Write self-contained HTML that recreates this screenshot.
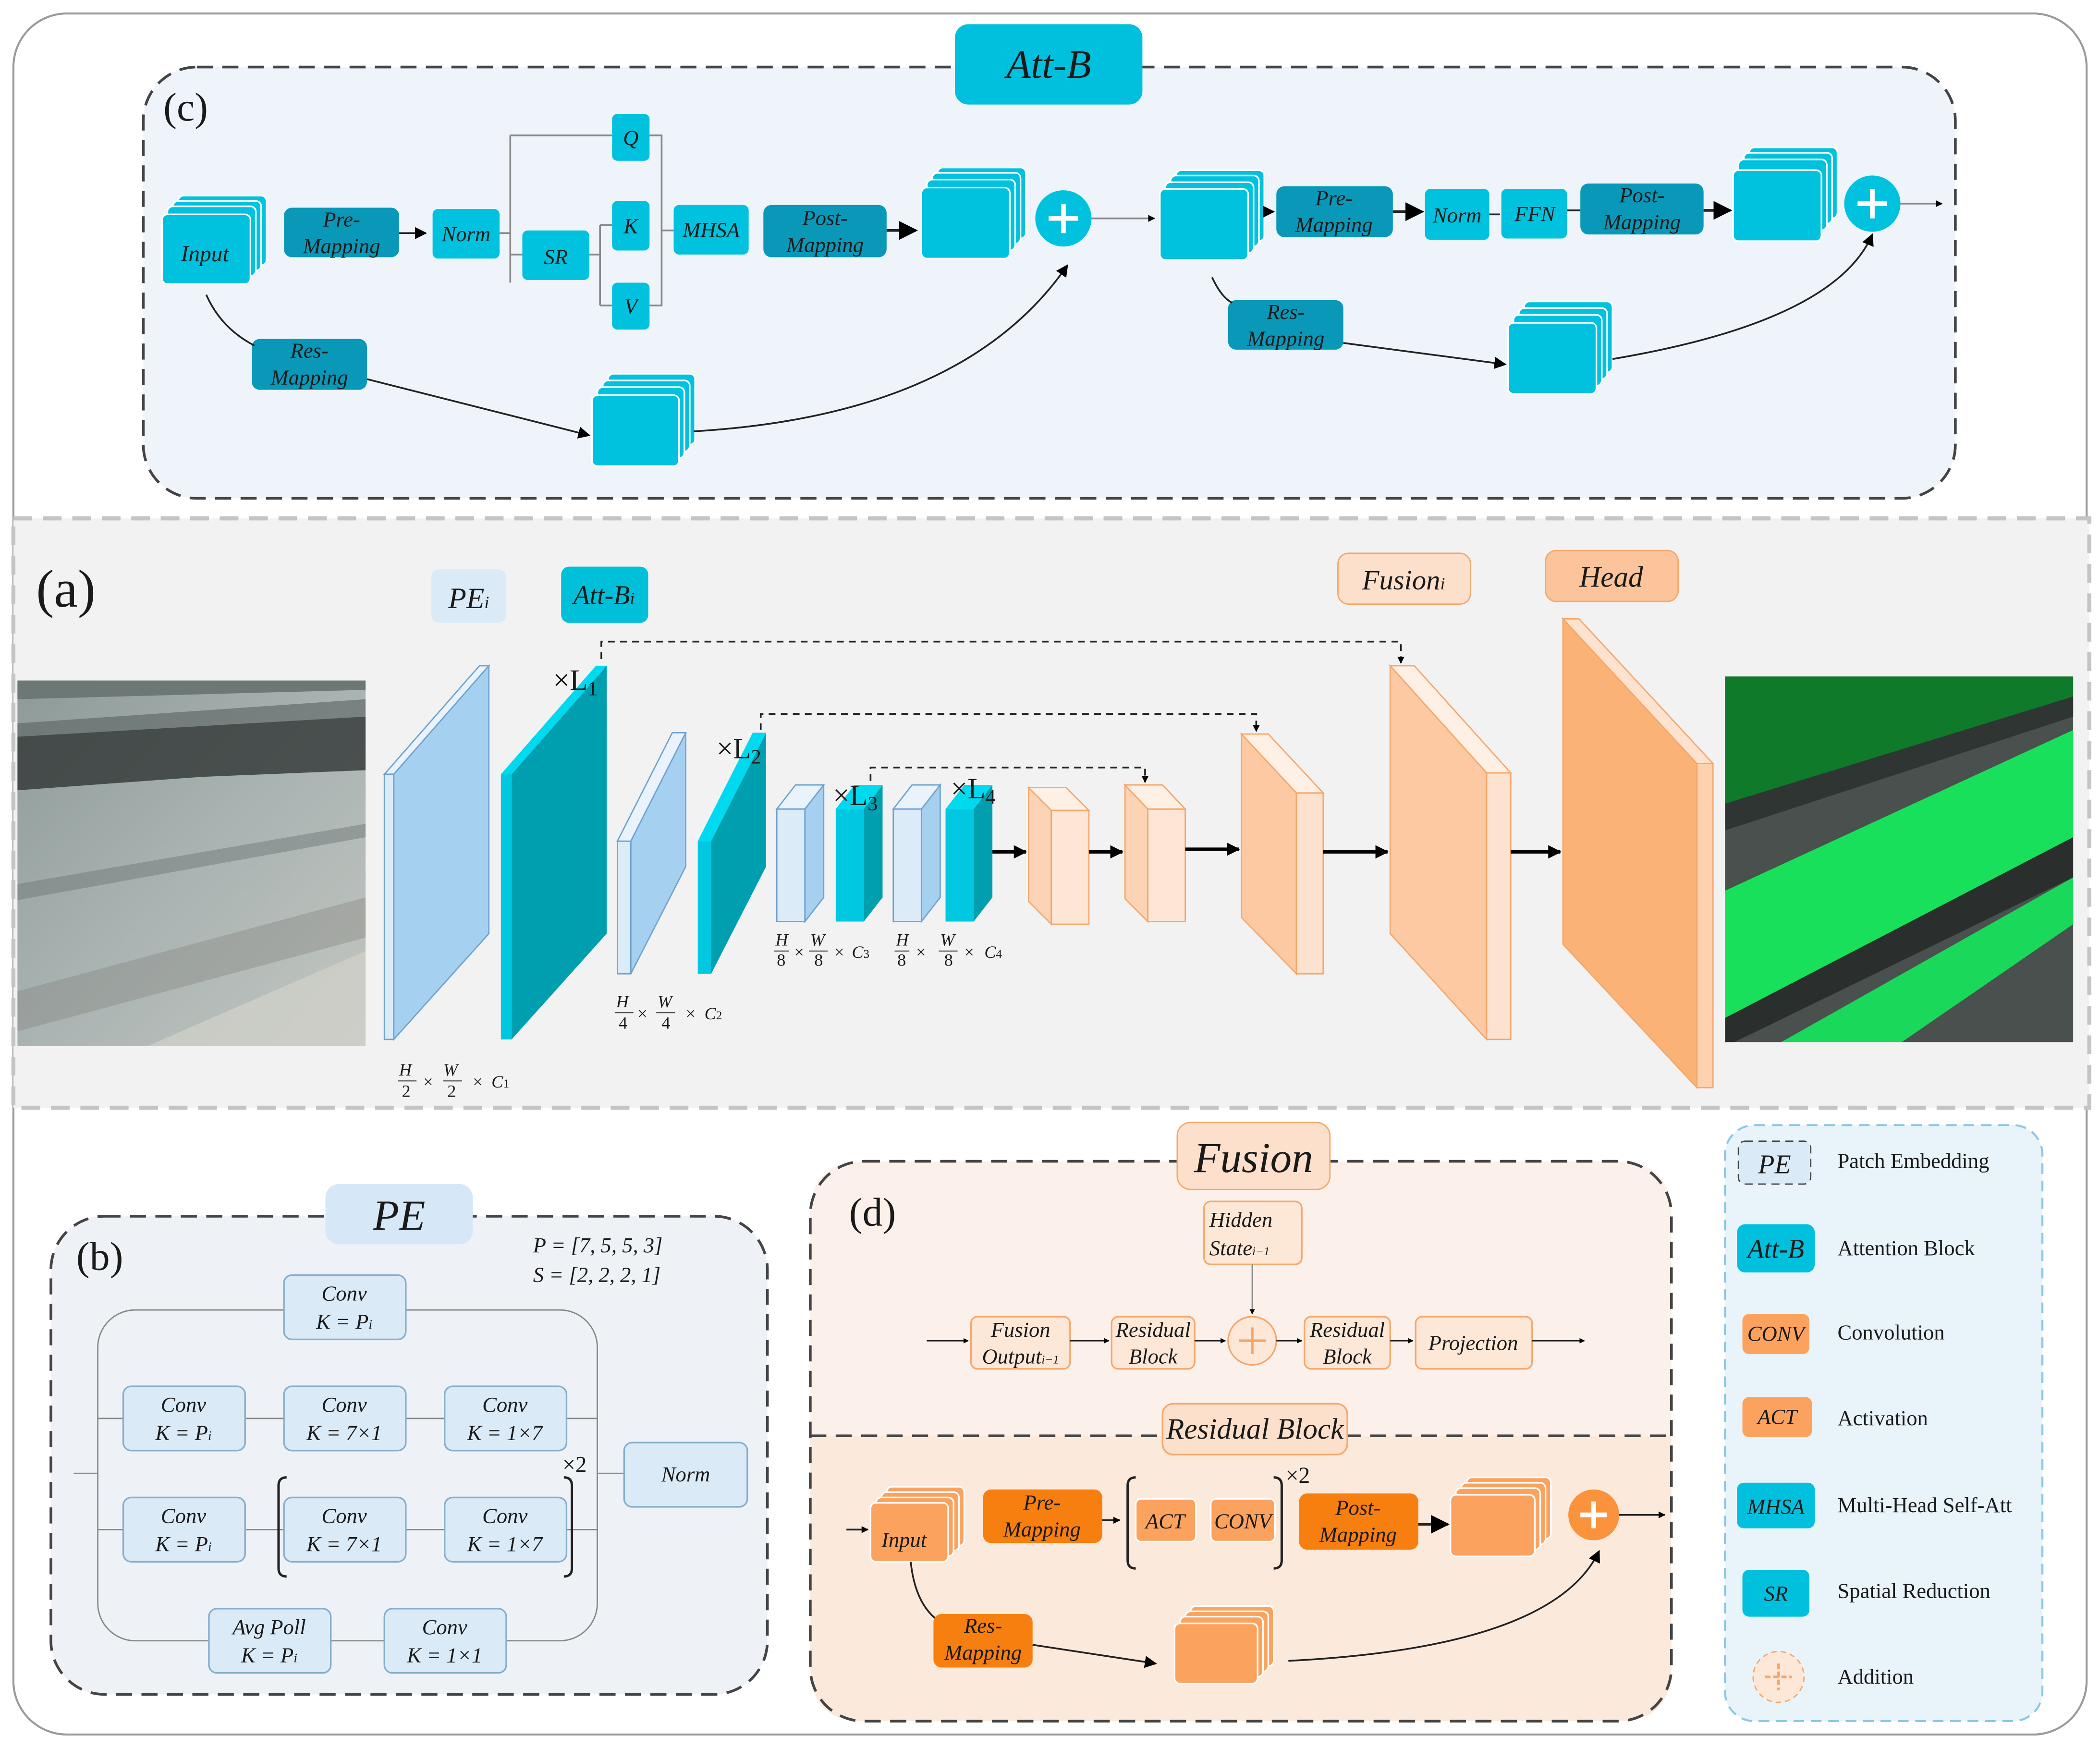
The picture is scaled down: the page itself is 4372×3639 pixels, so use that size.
<!DOCTYPE html>
<html><head><meta charset="utf-8"><style>
html,body{margin:0;padding:0;background:#fff}
svg{display:block}
text{font-family:"Liberation Serif",serif;font-style:italic;fill:#1a1a1a}
.n{font-style:normal}
</style></head><body>
<svg width="4372" height="3639" viewBox="0 0 1568 1305" xmlns="http://www.w3.org/2000/svg">
<defs>
<marker id="a" viewBox="0 0 10 10" refX="9" refY="5" markerWidth="7" markerHeight="7" orient="auto-start-reverse"><path d="M0,0L10,5L0,10z" fill="#000"/></marker>
<marker id="ab" viewBox="0 0 10 10" refX="9" refY="5" markerWidth="4" markerHeight="4" orient="auto"><path d="M0,0L10,5L0,10z" fill="#000"/></marker>
<linearGradient id="gl" x1="0" y1="0" x2="1" y2="1"><stop offset="0" stop-color="#8e9a98"/><stop offset="0.5" stop-color="#a9b3b2"/><stop offset="1" stop-color="#c3c6c0"/></linearGradient>
<clipPath id="cl"><rect x="13" y="508" width="260" height="273"/></clipPath>
<clipPath id="cr"><rect x="1288" y="505" width="260" height="273"/></clipPath>
</defs>
<rect x="10" y="10" width="1548" height="1285" rx="40" fill="#fff" stroke="#9a9a9a" stroke-width="1.5"/>

<!-- (c) panel -->
<rect x="107" y="50" width="1353" height="322" rx="40" fill="#eef4f9" stroke="#444" stroke-width="2" stroke-dasharray="12,7"/>
<rect x="713" y="18" width="140" height="60" rx="10" fill="#00c0dd"/>
<text x="783" y="58" font-size="30" text-anchor="middle">Att-B</text>
<text x="122" y="90" font-size="30" class="n">(c)</text>
<g fill="#00c2de" stroke="#fff" stroke-width="1.2">
<rect x="133" y="146" width="66" height="52" rx="4"/><rect x="129" y="150" width="66" height="52" rx="4"/><rect x="125" y="154" width="66" height="52" rx="4"/><rect x="121" y="160" width="66" height="52" rx="4"/>
<rect x="700" y="125" width="66" height="53" rx="4"/><rect x="696" y="129" width="66" height="53" rx="4"/><rect x="692" y="134" width="66" height="53" rx="4"/><rect x="688" y="140" width="66" height="53" rx="4"/>
<rect x="878" y="127" width="66" height="53" rx="4"/><rect x="874" y="131" width="66" height="53" rx="4"/><rect x="870" y="136" width="66" height="53" rx="4"/><rect x="866" y="141" width="66" height="53" rx="4"/>
<rect x="1306" y="110" width="66" height="53" rx="4"/><rect x="1302" y="114" width="66" height="53" rx="4"/><rect x="1298" y="119" width="66" height="53" rx="4"/><rect x="1294" y="127" width="66" height="53" rx="4"/>
<rect x="454" y="279" width="65" height="53" rx="4"/><rect x="450" y="284" width="65" height="53" rx="4"/><rect x="446" y="289" width="65" height="53" rx="4"/><rect x="442" y="295" width="65" height="53" rx="4"/>
<rect x="1138" y="225" width="66" height="53" rx="4"/><rect x="1134" y="230" width="66" height="53" rx="4"/><rect x="1130" y="235" width="66" height="53" rx="4"/><rect x="1126" y="241" width="66" height="53" rx="4"/>
</g>
<text x="153" y="195" font-size="17" text-anchor="middle">Input</text>
<g fill="#0a98b8"><rect x="212" y="155" width="86" height="37" rx="6"/><rect x="570" y="153" width="92" height="39" rx="6"/><rect x="953" y="139" width="87" height="38" rx="6"/><rect x="1180" y="137" width="92" height="38" rx="6"/><rect x="188" y="253" width="86" height="38" rx="6"/><rect x="917" y="224" width="86" height="37" rx="6"/></g>
<g fill="#00c2de"><rect x="323" y="156" width="50" height="37" rx="4"/><rect x="390" y="172" width="50" height="37" rx="4"/><rect x="457" y="85" width="28" height="35" rx="4"/><rect x="457" y="150" width="28" height="37" rx="4"/><rect x="457" y="211" width="28" height="35" rx="4"/><rect x="503" y="153" width="56" height="37" rx="4"/><rect x="1064" y="141" width="48" height="38" rx="4"/><rect x="1121" y="141" width="49" height="37" rx="4"/>
<circle cx="794" cy="163" r="21"/><circle cx="1398" cy="152" r="21"/></g>
<g font-size="16" text-anchor="middle">
<text x="255" y="169">Pre-</text><text x="255" y="189">Mapping</text>
<text x="348" y="180">Norm</text><text x="415" y="197">SR</text>
<text x="471" y="108">Q</text><text x="471" y="174">K</text><text x="471" y="234">V</text>
<text x="531" y="177">MHSA</text>
<text x="616" y="168">Post-</text><text x="616" y="188">Mapping</text>
<text x="996" y="153">Pre-</text><text x="996" y="173">Mapping</text>
<text x="1088" y="166">Norm</text><text x="1146" y="165">FFN</text>
<text x="1226" y="151">Post-</text><text x="1226" y="171">Mapping</text>
<text x="231" y="267">Res-</text><text x="231" y="287">Mapping</text>
<text x="960" y="238">Res-</text><text x="960" y="258">Mapping</text>
</g>
<g stroke="#fff" stroke-width="3.5"><path d="M794,152v22M783,163h22M1398,141v22M1387,152h22"/></g>
<g fill="none" stroke="#222" stroke-width="1.3">
<path d="M298,174H318" marker-end="url(#a)"/>
<path d="M373,174h8M381,101v110M381,101H457M381,190h9" stroke="#888"/>
<path d="M440,190h8M448,168v60M448,168h9M448,228h9" stroke="#888"/>
<path d="M485,101h9v127h-9M494,172h9" stroke="#888"/>
<path d="M662,172H684" stroke-width="2" marker-end="url(#a)"/>
<path d="M815,163H862" stroke="#888" marker-end="url(#ab)"/>
<path d="M943,158H951" marker-end="url(#a)"/>
<path d="M1040,158H1062" stroke-width="2" marker-end="url(#a)"/>
<path d="M1112,160H1120"/><path d="M1170,157H1180"/>
<path d="M1272,157H1292" stroke-width="2" marker-end="url(#a)"/>
<path d="M1419,152H1450" stroke="#888" marker-end="url(#ab)"/>
<path d="M154,220Q165,245 190,258"/>
<path d="M274,283L440,325" marker-end="url(#a)"/>
<path d="M518,322Q720,310 797,198" marker-end="url(#a)"/>
<path d="M905,207Q912,222 920,226"/>
<path d="M1003,256L1124,272" marker-end="url(#a)"/>
<path d="M1204,268Q1370,240 1398,175" marker-end="url(#a)"/>
</g>

<!-- (a) band -->
<rect x="10" y="387" width="1550" height="440" fill="#f2f2f2" stroke="#c4c4c4" stroke-width="3" stroke-dasharray="14,8"/>
<text x="27" y="453" font-size="40" class="n">(a)</text>
<!-- left photo -->
<g clip-path="url(#cl)">
<rect x="13" y="508" width="260" height="273" fill="url(#gl)"/>
<path d="M13,508H273V515L13,522Z" fill="#6d7775"/>
<path d="M13,540L273,522L273,535L13,550Z" fill="#59615f" opacity="0.6"/>
<path d="M13,550L273,535L273,575L150,580L13,590Z" fill="#2f3634" opacity="0.8"/>
<path d="M13,660L273,615L273,625L13,672Z" fill="#6f7978" opacity="0.5"/>
<path d="M13,740L273,670L273,700L13,770Z" fill="#7d7f78" opacity="0.35"/>
<path d="M110,781L273,710L273,781Z" fill="#d2d2ca" opacity="0.7"/>
</g>
<!-- right photo -->
<g clip-path="url(#cr)">
<rect x="1288" y="505" width="260" height="273" fill="#4a504e"/>
<path d="M1288,505H1548V520L1288,600Z" fill="#0e7a2a"/>
<path d="M1288,600L1548,520L1548,535L1288,620Z" fill="#2f3532"/>
<path d="M1288,665L1548,545L1548,625L1288,760Z" fill="#19e05a"/>
<path d="M1330,778L1548,655L1548,690L1420,778Z" fill="#1ad85a"/>
<path d="M1288,760L1548,625L1548,655L1295,778L1288,778Z" fill="#2a2f2d"/>
</g>
<!-- tags -->
<rect x="322" y="425" width="56" height="40" rx="6" fill="#dbeaf7"/><text x="350" y="454" font-size="22" text-anchor="middle">PE<tspan font-size="13">i</tspan></text>
<rect x="419" y="423" width="65" height="42" rx="6" fill="#00bfd8"/><text x="451" y="451" font-size="20" text-anchor="middle">Att-B<tspan font-size="13">i</tspan></text>
<rect x="999" y="413" width="99" height="38" rx="8" fill="#fde0cc" stroke="#f5a76a"/><text x="1048" y="440" font-size="21" text-anchor="middle">Fusion<tspan font-size="13">i</tspan></text>
<rect x="1154" y="411" width="99" height="38" rx="8" fill="#fcc49a" stroke="#f5a76a"/><text x="1203" y="438" font-size="22" text-anchor="middle">Head</text>
<!-- blue slabs -->
<g stroke="#6fa3cf" stroke-width="1">
<path d="M294,578L365,497V697L294,776Z" fill="#a6d0ef"/><path d="M287,578H294V776H287Z" fill="#dcebf8"/><path d="M287,578L358,497H365L294,578Z" fill="#eaf3fb"/>
<path d="M471,628L512,547V647L471,727Z" fill="#a6d0ef"/><path d="M461,628H471V727H461Z" fill="#dcebf8"/><path d="M461,628L502,547H512L471,628Z" fill="#eaf3fb"/>
<path d="M601,604L615,586V670L601,688Z" fill="#a6d0ef"/><path d="M580,604H601V688H580Z" fill="#dcebf8"/><path d="M580,604L594,586H615L601,604Z" fill="#eaf3fb"/>
<path d="M688,604L702,586V670L688,688Z" fill="#a6d0ef"/><path d="M667,604H688V688H667Z" fill="#dcebf8"/><path d="M667,604L681,586H702L688,604Z" fill="#eaf3fb"/>
</g>
<g>
<path d="M382,578L453,497V697L382,776Z" fill="#009fb0"/><path d="M374,578H382V776H374Z" fill="#00c8e0"/><path d="M374,578L445,497H453L382,578Z" fill="#00daf0"/>
<path d="M531,628L572,547V647L531,727Z" fill="#009fb0"/><path d="M521,628H531V727H521Z" fill="#00c8e0"/><path d="M521,628L562,547H572L531,628Z" fill="#00daf0"/>
<path d="M645,604L659,586V670L645,688Z" fill="#009fb0"/><path d="M624,604H645V688H624Z" fill="#00c8e0"/><path d="M624,604L638,586H659L645,604Z" fill="#00daf0"/>
<path d="M727,604L741,586V670L727,688Z" fill="#009fb0"/><path d="M706,604H727V688H706Z" fill="#00c8e0"/><path d="M706,604L720,586H741L727,604Z" fill="#00daf0"/>
</g>
<g font-size="22" class="n"><text x="413" y="515" class="n">×L<tspan font-size="15" dy="4">1</tspan></text><text x="535" y="566" class="n">×L<tspan font-size="15" dy="4">2</tspan></text><text x="622" y="601" class="n">×L<tspan font-size="15" dy="4">3</tspan></text><text x="710" y="596" class="n">×L<tspan font-size="15" dy="4">4</tspan></text></g>
<!-- dims -->
<g font-size="13">
<text x="298" y="803">H</text><text x="300" y="819" class="n">2</text><text x="316" y="812" class="n">×</text><text x="331" y="803">W</text><text x="334" y="819" class="n">2</text><text x="353" y="812" class="n">×</text><text x="367" y="812">C<tspan font-size="9" class="n">1</tspan></text>
<text x="460" y="752">H</text><text x="462" y="768" class="n">4</text><text x="476" y="761" class="n">×</text><text x="491" y="752">W</text><text x="494" y="768" class="n">4</text><text x="512" y="761" class="n">×</text><text x="526" y="761">C<tspan font-size="9" class="n">2</tspan></text>
<text x="579" y="706">H</text><text x="580" y="721" class="n">8</text><text x="593" y="715" class="n">×</text><text x="605" y="706">W</text><text x="608" y="721" class="n">8</text><text x="623" y="715" class="n">×</text><text x="636" y="715">C<tspan font-size="9" class="n">3</tspan></text>
<text x="669" y="706">H</text><text x="670" y="721" class="n">8</text><text x="684" y="715" class="n">×</text><text x="702" y="706">W</text><text x="705" y="721" class="n">8</text><text x="720" y="715" class="n">×</text><text x="735" y="715">C<tspan font-size="9" class="n">4</tspan></text>
</g>
<path d="M297,807h14M331,807h14M459,756h14M490,756h14M578,710h11M604,710h14M668,710h11M701,710h14" stroke="#555" stroke-width="0.8"/>
<!-- orange blocks -->
<g stroke="#f5a76a" stroke-width="1">
<path d="M768,588L785,605V690L768,673Z" fill="#fcd3b4"/><path d="M785,605H813V690H785Z" fill="#fde6d5"/><path d="M768,588H796L813,605H785Z" fill="#fef0e5"/>
<path d="M840,586L857,604V688L840,671Z" fill="#fcd3b4"/><path d="M857,604H885V688H857Z" fill="#fde6d5"/><path d="M840,586H868L885,604H857Z" fill="#fef0e5"/>
<path d="M927,548L968,592V727L927,685Z" fill="#fcc9a3"/><path d="M968,592H988V727H968Z" fill="#fde3cf"/><path d="M927,548H947L988,592H968Z" fill="#fef0e5"/>
<path d="M1038,497L1110,577V776L1038,697Z" fill="#fcc9a3"/><path d="M1110,577H1128V776H1110Z" fill="#fde3cf"/><path d="M1038,497H1056L1128,577H1110Z" fill="#fef0e5"/>
<path d="M1167,462L1267,570V812L1167,705Z" fill="#fbb276"/><path d="M1267,570H1279V812H1267Z" fill="#fdd2ae"/><path d="M1167,462H1179L1279,570H1267Z" fill="#fde3cf"/>
</g>
<g fill="none" stroke="#000" stroke-width="2.5">
<path d="M741,636H766" marker-end="url(#ab)"/><path d="M813,636H838" marker-end="url(#ab)"/><path d="M885,634H925" marker-end="url(#ab)"/><path d="M988,636H1036" marker-end="url(#ab)"/><path d="M1128,636H1165" marker-end="url(#ab)"/>
</g>
<g fill="none" stroke="#222" stroke-width="1.3" stroke-dasharray="5,4">
<path d="M449,492V479H1046V495" marker-end="url(#ab)"/><path d="M568,545V533H938V546" marker-end="url(#ab)"/><path d="M650,583V573H855V584" marker-end="url(#ab)"/>
</g>

<!-- (b) panel -->
<rect x="38" y="908" width="535" height="357" rx="40" fill="#eef2f6" stroke="#444" stroke-width="2" stroke-dasharray="12,7"/>
<rect x="243" y="884" width="110" height="45" rx="10" fill="#d6e8f7"/><text x="298" y="918" font-size="32" text-anchor="middle">PE</text>
<text x="57" y="948" font-size="30" class="n">(b)</text>
<text x="398" y="935" font-size="16">P = [7, 5, 5, 3]</text><text x="398" y="957" font-size="16">S = [2, 2, 2, 1]</text>
<g fill="none" stroke="#888" stroke-width="1"><rect x="73" y="978" width="373" height="247" rx="28"/><path d="M55,1100H73M73,1059H446M73,1142H446M446,1100H466"/></g>
<g fill="#dbeaf7" stroke="#86aecd" stroke-width="1.2">
<rect x="212" y="952" width="91" height="48" rx="6"/>
<rect x="92" y="1035" width="91" height="48" rx="6"/><rect x="212" y="1035" width="91" height="48" rx="6"/><rect x="332" y="1035" width="91" height="48" rx="6"/>
<rect x="92" y="1118" width="91" height="48" rx="6"/><rect x="212" y="1118" width="91" height="48" rx="6"/><rect x="332" y="1118" width="91" height="48" rx="6"/>
<rect x="156" y="1201" width="91" height="48" rx="6"/><rect x="287" y="1201" width="91" height="48" rx="6"/>
<rect x="466" y="1077" width="92" height="48" rx="6"/>
</g>
<g font-size="16" text-anchor="middle">
<text x="257" y="971">Conv</text><text x="257" y="992">K = P<tspan font-size="10">i</tspan></text>
<text x="137" y="1054">Conv</text><text x="137" y="1075">K = P<tspan font-size="10">i</tspan></text>
<text x="257" y="1054">Conv</text><text x="257" y="1075">K = 7×1</text>
<text x="377" y="1054">Conv</text><text x="377" y="1075">K = 1×7</text>
<text x="137" y="1137">Conv</text><text x="137" y="1158">K = P<tspan font-size="10">i</tspan></text>
<text x="257" y="1137">Conv</text><text x="257" y="1158">K = 7×1</text>
<text x="377" y="1137">Conv</text><text x="377" y="1158">K = 1×7</text>
<text x="201" y="1220">Avg Poll</text><text x="201" y="1241">K = P<tspan font-size="10">i</tspan></text>
<text x="332" y="1220">Conv</text><text x="332" y="1241">K = 1×1</text>
<text x="512" y="1106">Norm</text>
</g>
<g fill="none" stroke="#222" stroke-width="1.8"><path d="M214,1103q-6,0 -6,6v62q0,6 6,6M421,1103q6,0 6,6v62q0,6 -6,6"/></g>
<text x="420" y="1099" font-size="17" class="n">×2</text>

<!-- (d) panel -->
<path d="M645,867H1208Q1248,867 1248,907V1072H605V907Q605,867 645,867Z" fill="#fcf1ea"/>
<path d="M605,1072H1248V1245Q1248,1285 1208,1285H645Q605,1285 605,1245Z" fill="#fbe9dc"/>
<rect x="605" y="867" width="643" height="418" rx="40" fill="none" stroke="#444" stroke-width="2" stroke-dasharray="12,7"/>
<path d="M605,1072H1248" stroke="#444" stroke-width="2" stroke-dasharray="12,7"/>
<rect x="879" y="838" width="114" height="50" rx="10" fill="#fde0cc" stroke="#f5a76a"/><text x="936" y="875" font-size="32" text-anchor="middle">Fusion</text>
<text x="634" y="915" font-size="30" class="n">(d)</text>
<g fill="#fde8d8" stroke="#f5a76a" stroke-width="1.2">
<rect x="899" y="897" width="73" height="47" rx="5"/><rect x="725" y="983" width="74" height="39" rx="5"/><rect x="830" y="983" width="62" height="39" rx="5"/><rect x="974" y="983" width="64" height="39" rx="5"/><rect x="1057" y="983" width="87" height="39" rx="5"/>
<rect x="868" y="1048" width="138" height="38" rx="8" fill="#fde0cc"/>
</g>
<circle cx="935" cy="1001" r="18" fill="#fde8d8" stroke="#f5a76a" stroke-width="1.2"/>
<path d="M935,991v20M925,1001h20" stroke="#f5a76a" stroke-width="2"/>
<g font-size="16" text-anchor="middle">
<text x="903" y="916" text-anchor="start">Hidden</text><text x="903" y="937" text-anchor="start">State<tspan font-size="9">i−1</tspan></text>
<text x="762" y="998">Fusion</text><text x="762" y="1018">Output<tspan font-size="9">i−1</tspan></text>
<text x="861" y="998">Residual</text><text x="861" y="1018">Block</text>
<text x="1006" y="998">Residual</text><text x="1006" y="1018">Block</text>
<text x="1100" y="1008">Projection</text>
<text x="937" y="1074" font-size="22">Residual Block</text>
</g>
<g fill="none" stroke="#222" stroke-width="1">
<path d="M692,1001H723" marker-end="url(#ab)"/><path d="M799,1001H828" marker-end="url(#ab)"/><path d="M892,1001H915" marker-end="url(#ab)"/><path d="M953,1001H972" marker-end="url(#ab)"/><path d="M1038,1001H1055" marker-end="url(#ab)"/><path d="M1144,1001H1183" marker-end="url(#ab)"/><path d="M935,944V981" stroke="#888" marker-end="url(#ab)"/>
</g>
<g fill="#fba35e" stroke="#fff" stroke-width="1.2">
<rect x="662" y="1110" width="58" height="44" rx="4"/><rect x="658" y="1114" width="58" height="44" rx="4"/><rect x="654" y="1118" width="58" height="44" rx="4"/><rect x="650" y="1122" width="58" height="44" rx="4"/>
<rect x="1095" y="1103" width="63" height="46" rx="4"/><rect x="1091" y="1107" width="63" height="46" rx="4"/><rect x="1087" y="1111" width="63" height="46" rx="4"/><rect x="1083" y="1116" width="63" height="46" rx="4"/>
<rect x="889" y="1199" width="62" height="45" rx="4"/><rect x="885" y="1203" width="62" height="45" rx="4"/><rect x="881" y="1207" width="62" height="45" rx="4"/><rect x="877" y="1212" width="62" height="45" rx="4"/>
<rect x="848" y="1119" width="45" height="32" rx="4"/><rect x="904" y="1119" width="48" height="32" rx="4"/>
</g>
<g fill="#f77f0f"><rect x="734" y="1112" width="89" height="40" rx="6"/><rect x="970" y="1115" width="89" height="42" rx="6"/><rect x="697" y="1205" width="74" height="40" rx="6"/></g>
<circle cx="1190" cy="1131" r="19" fill="#fb923c"/><path d="M1190,1121v20M1180,1131h20" stroke="#fff" stroke-width="3.5"/>
<g font-size="16" text-anchor="middle">
<text x="675" y="1155">Input</text>
<text x="778" y="1127">Pre-</text><text x="778" y="1147">Mapping</text>
<text x="870" y="1141">ACT</text><text x="928" y="1141">CONV</text>
<text x="1014" y="1131">Post-</text><text x="1014" y="1151">Mapping</text>
<text x="734" y="1219">Res-</text><text x="734" y="1239">Mapping</text>
</g>
<g fill="none" stroke="#222" stroke-width="1.3">
<path d="M632,1142H648" marker-end="url(#ab)"/><path d="M823,1135H836" marker-end="url(#ab)"/>
<path d="M848,1103q-6,0 -6,6v56q0,6 6,6M951,1103q6,0 6,6v56q0,6 -6,6" stroke-width="1.8"/>
<path d="M1059,1138H1081" stroke-width="2" marker-end="url(#a)"/><path d="M1209,1131H1243" marker-end="url(#ab)"/>
<path d="M680,1166Q683,1195 698,1208"/><path d="M771,1228L863,1242" marker-end="url(#a)"/><path d="M962,1240Q1160,1230 1194,1158" marker-end="url(#a)"/>
</g>
<text x="960" y="1107" font-size="17" class="n">×2</text>

<!-- legend -->
<rect x="1288" y="840" width="237" height="445" rx="22" fill="#e9f3fa" stroke="#8cc8e4" stroke-width="1.5" stroke-dasharray="8,5"/>
<rect x="1298" y="852" width="54" height="32" rx="5" fill="#dbeaf7" stroke="#444" stroke-dasharray="6,4"/><text x="1325" y="876" font-size="20" text-anchor="middle">PE</text>
<rect x="1297" y="914" width="58" height="36" rx="6" fill="#00c0dd"/><text x="1326" y="939" font-size="20" text-anchor="middle">Att-B</text>
<rect x="1301" y="981" width="50" height="30" rx="5" fill="#fba35e"/><text x="1326" y="1001" font-size="16" text-anchor="middle">CONV</text>
<rect x="1301" y="1043" width="52" height="30" rx="5" fill="#fba35e"/><text x="1327" y="1063" font-size="16" text-anchor="middle">ACT</text>
<rect x="1297" y="1107" width="58" height="34" rx="5" fill="#00c0dd"/><text x="1326" y="1130" font-size="16" text-anchor="middle">MHSA</text>
<rect x="1301" y="1172" width="50" height="35" rx="5" fill="#00c0dd"/><text x="1326" y="1195" font-size="16" text-anchor="middle">SR</text>
<circle cx="1328" cy="1252" r="19" fill="#fde8d8" stroke="#f5a76a" stroke-dasharray="4,3"/><path d="M1328,1242v20M1318,1252h20" stroke="#f5a76a" stroke-width="2" stroke-dasharray="4,2"/>
<g font-size="16" class="n"><text x="1372" y="872" class="n">Patch Embedding</text><text x="1372" y="937" class="n">Attention Block</text><text x="1372" y="1000" class="n">Convolution</text><text x="1372" y="1064" class="n">Activation</text><text x="1372" y="1129" class="n">Multi-Head Self-Att</text><text x="1372" y="1193" class="n">Spatial Reduction</text><text x="1372" y="1257" class="n">Addition</text></g>
</svg>
</body></html>
